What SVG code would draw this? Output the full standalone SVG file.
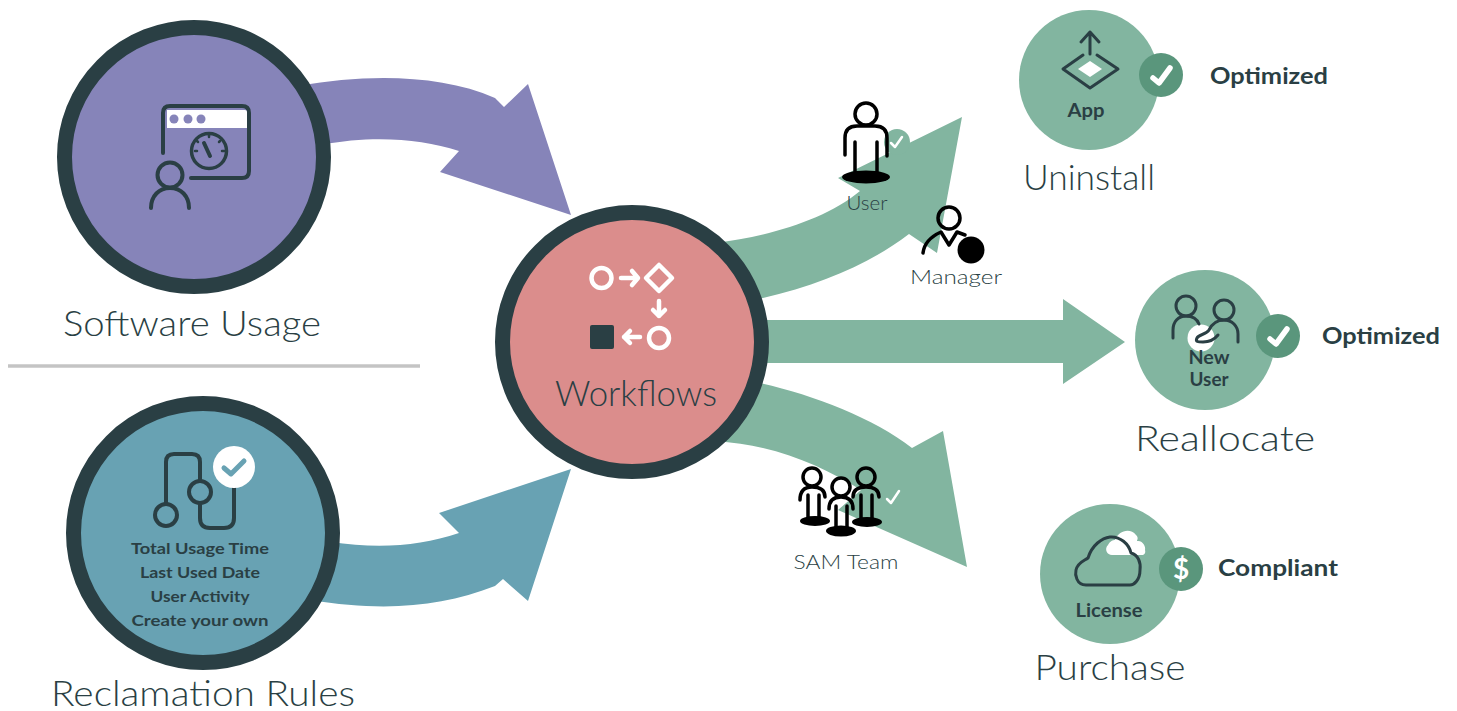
<svg xmlns="http://www.w3.org/2000/svg" width="1457" height="711" viewBox="0 0 1457 711">
<style>
text{font-family:"Lato","Open Sans","Liberation Sans",sans-serif;fill:#2a3f44}
.t{font-size:36px;font-weight:300;text-anchor:middle}
.s{font-size:20px;font-weight:300;text-anchor:middle}
.b{font-size:18px;font-weight:700;text-anchor:middle}
.r{font-size:15.5px;font-weight:700;text-anchor:middle}
.o{font-size:23px;font-weight:700}
.big{stroke:#2a3f44;stroke-width:15}
.ln{fill:none;stroke:#2a3f44;stroke-width:4;stroke-linecap:round;stroke-linejoin:round}
.wl{fill:none;stroke:#fff;stroke-width:4.5;stroke-linecap:round;stroke-linejoin:round}
.k{fill:none;stroke:#000;stroke-width:3.5;stroke-linecap:round;stroke-linejoin:round}
.ck{fill:none;stroke:#fff;stroke-width:5.5;stroke-linecap:round;stroke-linejoin:round}
.g{fill:#82b5a0}.d{fill:#5a967c}
</style>
<g id="connectors">
<path id="arrow-usage" fill="#8684b9" d="M300 86C365 74 440 74 495 98L504 107L528 84L571 215L440 172L459 151C420 139 375 135 320 145Z"/>
<path id="arrow-rules" fill="#68a2b3" d="M330 542C380 549 420 546 459 533L439 513L571 469L528 601L503 579L495 586C440 607 385 612 310 600Z"/>
<path id="arrow-uninstall" class="g" d="M715 243C770 236 825 220 860 191L838 178L962 117L937 253L909 234C870 264 815 288 745 302Z"/>
<path id="arrow-reallocate" class="g" d="M750 320H1063V299L1125 342L1063 384V363H750Z"/>
<path id="arrow-purchase" class="g" d="M745 380C800 390 870 415 912 448L943 431L967 567L838 510L861 490C820 465 775 445 715 441Z"/>
</g>
<g id="separator"><line x1="8" y1="366" x2="420" y2="366" stroke="#c4c4c4" stroke-width="3.500"/></g>
<g id="node-software-usage">
<circle cx="194" cy="157" r="129.5" class="big" style="fill:#8684b9"/>
<path class="ln" d="M163 153V113Q163 106 170 106H242Q249 106 249 113V171Q249 178 242 178H191"/>
<path fill="#fff" d="M167 110H245Q247 110 247 112V128H167Z"/>
<circle cx="174" cy="119" r="4.500" fill="#8684b9"/><circle cx="188" cy="119" r="4.500" fill="#8684b9"/><circle cx="201" cy="119" r="4.500" fill="#8684b9"/>
<circle cx="209" cy="151" r="17.500" class="ln" style="stroke-width:3.500"/>
<path class="ln" d="M204 143L210 156" style="stroke-width:4"/>
<path class="ln" d="M209 135v2M220 141l-1 1M224 151h-2M197 141l1 1M195 151h2" style="stroke-width:2.500"/>
<circle cx="170" cy="175" r="12.500" class="ln"/>
<path class="ln" d="M151 208C151 196 159 188 170 188S189 196 189 208"/>
</g>
<g id="node-reclamation-rules">
<circle cx="203" cy="533" r="129.5" class="big" style="fill:#68a2b3"/>
<path class="ln" d="M166 503V462Q166 454 174 454H192Q200 454 200 462V480M200 505V518Q200 528 210 528H224Q234 528 234 518V485"/>
<circle cx="166" cy="515" r="11" class="ln"/>
<circle cx="200" cy="492" r="11" class="ln"/>
<circle cx="234" cy="467" r="21" fill="#fff"/>
<path d="M224 468L231 474L244 461" fill="none" stroke="#68a2b3" stroke-width="5" stroke-linecap="round" stroke-linejoin="round"/>
<text class="r" x="200" y="554" textLength="138" lengthAdjust="spacingAndGlyphs">Total Usage Time</text>
<text class="r" x="200" y="578" textLength="120" lengthAdjust="spacingAndGlyphs">Last Used Date</text>
<text class="r" x="200" y="602" textLength="99" lengthAdjust="spacingAndGlyphs">User Activity</text>
<text class="r" x="200" y="626" textLength="137" lengthAdjust="spacingAndGlyphs">Create your own</text>
</g>
<text class="t" x="192" y="336" textLength="258" lengthAdjust="spacingAndGlyphs">Software Usage</text>
<text class="t" x="203" y="706" textLength="304" lengthAdjust="spacingAndGlyphs">Reclamation Rules</text>
<g id="node-workflows">
<circle cx="632" cy="342" r="129.5" class="big" style="fill:#db8d8c"/>
<circle cx="601.500" cy="278" r="10" class="wl"/>
<path class="wl" d="M621 278H637M632 271L638 278L632 285"/>
<path class="wl" d="M659 265L672 278L659 291L646 278Z"/>
<path class="wl" d="M659 301V316M653 310L659 316L665 310"/>
<rect x="590" y="325" width="24" height="24" rx="2" fill="#2a3f44"/>
<path class="wl" d="M640 337H624M630 331L624 337L630 343"/>
<circle cx="659" cy="338" r="10" class="wl"/>
<text class="t" x="636" y="406" textLength="162" lengthAdjust="spacingAndGlyphs">Workflows</text>
</g>
<g id="node-user">
<circle cx="897" cy="142" r="13" class="g"/>
<path d="M891 143L895 147L902 137" fill="none" stroke="#fff" stroke-width="2.500" stroke-linecap="round" stroke-linejoin="round"/>
<circle cx="866" cy="114" r="11" class="k"/>
<path class="k" d="M845 155V138Q845 126 857 126H875Q887 126 887 138V156"/>
<path class="k" d="M855 142V174M877 142V174"/>
<ellipse cx="866" cy="177" rx="24" ry="6.500" fill="#000"/>
<text class="s" x="867" y="210" textLength="41" lengthAdjust="spacingAndGlyphs">User</text>
</g>
<g id="node-manager">
<circle cx="949" cy="218" r="11" class="k"/>
<path class="k" d="M923 253C924 244 930 237 941 232L949 245L957 232L965 235"/>
<circle cx="971" cy="250" r="13.500" fill="#000"/>
<text class="s" x="956" y="284" textLength="92" lengthAdjust="spacingAndGlyphs">Manager</text>
</g>
<g id="node-sam-team">
<path d="M887 499L891 503L899 491" fill="none" stroke="#fff" stroke-width="2.500" stroke-linecap="round" stroke-linejoin="round"/>
<circle cx="866" cy="477" r="9" class="k"/>
<path class="k" d="M853 497Q853 487 866 487Q879 487 879 497"/>
<path class="k" d="M861 495V522M872 495V522"/>
<ellipse cx="867" cy="522" rx="15" ry="5" fill="#000"/>
<circle cx="812" cy="477" r="9" class="k"/>
<path class="k" d="M800 500Q800 487 812 487Q825 487 825 497"/>
<path class="k" d="M808 495V521M819 495V521"/>
<ellipse cx="815" cy="521" rx="15" ry="5" fill="#000"/>
<circle cx="841" cy="487" r="9" class="k"/>
<path class="k" d="M829 509Q829 497 841 497Q853 497 853 509"/>
<path class="k" d="M836 506V531M847 506V531"/>
<ellipse cx="841" cy="531" rx="15" ry="5.500" fill="#000"/>
<text class="s" x="846" y="569" textLength="105" lengthAdjust="spacingAndGlyphs">SAM Team</text>
</g>
<g id="node-uninstall">
<circle cx="1089" cy="80" r="70" class="g"/>
<path class="ln" d="M1090 54V32M1081 42L1090 32L1099 42" style="stroke-width:3"/>
<path class="ln" d="M1083 55L1063 69L1090 88L1118 69L1097 55" style="stroke-width:3"/>
<path fill="#fff" d="M1090 61L1102 69L1090 77L1078 69Z"/>
<text class="b" x="1086" y="117" textLength="37" lengthAdjust="spacingAndGlyphs">App</text>
<circle cx="1161" cy="75" r="22" class="d"/>
<path class="ck" d="M1153 78L1159 83L1170 68"/>
<text class="t" x="1089" y="190" textLength="132" lengthAdjust="spacingAndGlyphs">Uninstall</text>
<text class="o" x="1210" y="84" textLength="118" lengthAdjust="spacingAndGlyphs">Optimized</text>
</g>
<g id="node-reallocate">
<circle cx="1205" cy="340" r="70" class="g"/>
<circle cx="1201" cy="338" r="13.500" fill="#fff"/>
<circle cx="1186" cy="306" r="10" class="ln" style="stroke-width:3"/>
<path class="ln" d="M1173 338V330C1173 322 1178 316 1186 316C1192 316 1197 319 1199 324" style="stroke-width:3"/>
<circle cx="1224" cy="310" r="10" class="ln" style="stroke-width:3"/>
<path class="ln" d="M1238 342V334C1238 326 1232 320 1224 320C1216 320 1212 324 1209 330C1206 335 1199 334 1197 338C1195 342 1198 342 1203 342C1208 342 1214 340 1218 335" style="stroke-width:3"/>
<text class="b" x="1209" y="364" textLength="41" lengthAdjust="spacingAndGlyphs">New</text>
<text class="b" x="1209" y="386" textLength="39" lengthAdjust="spacingAndGlyphs">User</text>
<circle cx="1278" cy="336" r="22" class="d"/>
<path class="ck" d="M1270 339L1276 344L1287 329"/>
<text class="t" x="1225" y="451" textLength="180" lengthAdjust="spacingAndGlyphs">Reallocate</text>
<text class="o" x="1322" y="344" textLength="118" lengthAdjust="spacingAndGlyphs">Optimized</text>
</g>
<g id="node-purchase">
<circle cx="1110" cy="574" r="70" class="g"/>
<path fill="#fff" d="M1112 555C1107 555 1104 549 1108 545C1110 541 1113 540 1115 540C1118 531 1130 527 1136 535C1139 538 1137 540 1137 541C1143 540 1146 547 1145 550C1146 553 1144 555 1142 555Z"/>
<path class="ln" d="M1086 585C1076 585 1075 574 1076 570C1078 562 1084 561 1088 558C1092 545 1102 538 1110 537C1120 536 1129 544 1131 553C1138 555 1141 562 1140 570C1140 580 1134 585 1130 585Z" style="stroke-width:3"/>
<text class="b" x="1109" y="617" textLength="67" lengthAdjust="spacingAndGlyphs">License</text>
<circle cx="1181" cy="569" r="22" class="d"/>
<text x="1181" y="579" style="font-size:28px;font-weight:700;fill:#fff;text-anchor:middle">$</text>
<text class="t" x="1110" y="680" textLength="151" lengthAdjust="spacingAndGlyphs">Purchase</text>
<text class="o" x="1218" y="576" textLength="120" lengthAdjust="spacingAndGlyphs">Compliant</text>
</g>
</svg>
